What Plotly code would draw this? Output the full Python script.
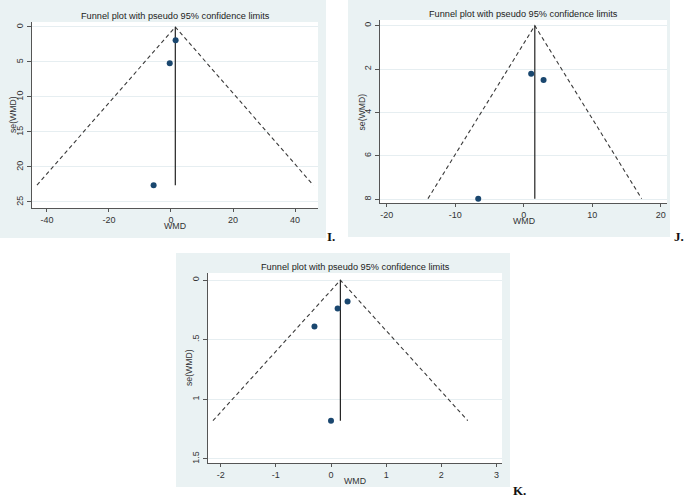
import plotly.graph_objects as go

W, H = 685, 498

# ---------------- data ----------------
# Panel I
wmd_I = [1.5, -0.4, -5.6]
se_I = [1.9, 5.2, 22.6]
pooled_I = 1.4
funnel_left_I = -43.2
funnel_right_I = 45.9
se_max_I = 22.6

# Panel J
wmd_J = [1.07, 2.88, -6.66]
se_J = [2.22, 2.50, 7.97]
pooled_J = 1.6
funnel_left_J = -14.0
funnel_right_J = 17.2
se_max_J = 7.97

# Panel K
wmd_K = [0.30, 0.12, -0.30, 0.0]
se_K = [0.18, 0.237, 0.39, 1.18]
pooled_K = 0.17
funnel_left_K = -2.14
funnel_right_K = 2.48
se_max_K = 1.18

xt_I = [-40, -20, 0, 20, 40]
yt_I = [0, 5, 10, 15, 20, 25]
xt_J = [-20, -10, 0, 10, 20]
yt_J = [0, 2, 4, 6, 8]
xt_K = [-2, -1, 0, 1, 2, 3]
yt_K = [0, 0.5, 1, 1.5]
yt_K_text = ["0", ".5", "1", "1.5"]

title_text = "Funnel plot with pseudo 95% confidence limits"

# ---------------- layout geometry (pixels) ----------------
panels = {
    "I": dict(plot=(32, 318, 22, 208), bg=(0, 326, 0, 238),
              xr=[-44.8, 47.4], yr=[25.86, -0.71], label_xy=(331, 236)),
    "J": dict(plot=(380, 667, 20, 203), bg=(348, 670, 0, 237),
              xr=[-21.0, 20.9], yr=[8.17, -0.26], label_xy=(679, 236)),
    "K": dict(plot=(208, 502, 273, 463), bg=(176, 510, 253, 487),
              xr=[-2.23, 3.1], yr=[1.535, -0.06], label_xy=(519, 490)),
}

FONT = "Liberation Sans, Arial, sans-serif"
NAVY = "#1a476f"
AXC = "#555555"
GRID = "#e6eef1"
BG = "#eaf2f3"

fig = go.Figure()

def px_x(v):
    return v / W

def px_y(v):
    return 1 - v / H

shapes = []
annotations = []

data = {
    "I": (wmd_I, se_I, pooled_I, funnel_left_I, funnel_right_I, se_max_I, xt_I, yt_I, [str(v) for v in yt_I]),
    "J": (wmd_J, se_J, pooled_J, funnel_left_J, funnel_right_J, se_max_J, xt_J, yt_J, [str(v) for v in yt_J]),
    "K": (wmd_K, se_K, pooled_K, funnel_left_K, funnel_right_K, se_max_K, xt_K, yt_K, yt_K_text),
}

for i, key in enumerate(["I", "J", "K"]):
    p = panels[key]
    wmd, se, pooled, fl, fr, smax, xt, yt, ytt = data[key]
    sfx = "" if i == 0 else str(i + 1)
    xa, ya = "x" + sfx, "y" + sfx
    px0, px1, py0, py1 = p["plot"]
    bx0, bx1, by0, by1 = p["bg"]

    shapes.append(dict(type="rect", xref="paper", yref="paper", layer="below",
                       x0=px_x(bx0), x1=px_x(bx1), y0=px_y(by1), y1=px_y(by0),
                       fillcolor=BG, line=dict(width=0)))
    shapes.append(dict(type="rect", xref="paper", yref="paper", layer="below",
                       x0=px_x(px0), x1=px_x(px1), y0=px_y(py1), y1=px_y(py0),
                       fillcolor="white", line=dict(width=0)))

    fig.add_trace(go.Scatter(x=[fl, pooled, fr], y=[smax, 0, smax], mode="lines",
                             line=dict(color="#3a3a3a", width=1.1, dash="4px,3px"),
                             xaxis=xa, yaxis=ya, hoverinfo="skip", showlegend=False))
    fig.add_trace(go.Scatter(x=[pooled, pooled], y=[0, smax], mode="lines",
                             line=dict(color="#222222", width=1.2),
                             xaxis=xa, yaxis=ya, hoverinfo="skip", showlegend=False))
    fig.add_trace(go.Scatter(x=wmd, y=se, mode="markers",
                             marker=dict(color=NAVY, size=6, line=dict(width=0)),
                             xaxis=xa, yaxis=ya, showlegend=False))

    fig.update_layout(**{
        "xaxis" + sfx: dict(domain=[px_x(px0), px_x(px1)], range=p["xr"], anchor=ya,
                            showgrid=False, zeroline=False, showline=True, linecolor=AXC,
                            linewidth=1, ticks="outside", ticklen=3, tickcolor=AXC,
                            tickvals=xt, ticktext=[str(v) for v in xt],
                            tickfont=dict(family=FONT, size=9, color="#333333")),
        "yaxis" + sfx: dict(domain=[px_y(py1), px_y(py0)], range=p["yr"], anchor=xa,
                            showgrid=True, gridcolor=GRID, gridwidth=1, zeroline=False,
                            showline=True, linecolor=AXC, linewidth=1, ticks="outside",
                            ticklen=4, tickcolor=AXC, tickvals=yt, ticktext=ytt,
                            tickangle=-90,
                            tickfont=dict(family=FONT, size=9, color="#333333")),
    })

    cx = (px0 + px1) / 2
    annotations.append(dict(xref="paper", yref="paper", x=px_x(cx), y=px_y(py0 - 6),
                            text=title_text, showarrow=False, xanchor="center", yanchor="middle",
                            font=dict(family=FONT, size=9.2, color="#222222")))
    annotations.append(dict(xref="paper", yref="paper", x=px_x(cx), y=px_y(py1 + 18),
                            text="WMD", showarrow=False, xanchor="center", yanchor="middle",
                            font=dict(family=FONT, size=8.8, color="#333333")))
    annotations.append(dict(xref="paper", yref="paper", x=px_x(bx0 + 13), y=px_y((py0 + py1) / 2),
                            text="se(WMD)", showarrow=False, textangle=-90,
                            xanchor="center", yanchor="middle",
                            font=dict(family=FONT, size=8.7, color="#333333")))
    lx, ly = p["label_xy"]
    annotations.append(dict(xref="paper", yref="paper", x=px_x(lx), y=px_y(ly),
                            text="<b>" + key + ".</b>", showarrow=False,
                            xanchor="center", yanchor="middle",
                            font=dict(family="Liberation Serif, Times New Roman, serif",
                                      size=13, color="#111111")))

fig.update_layout(width=W, height=H, margin=dict(l=0, r=0, t=0, b=0),
                  paper_bgcolor="white", plot_bgcolor="rgba(0,0,0,0)",
                  shapes=shapes, annotations=annotations, showlegend=False,
                  hovermode=False)

fig.write_html("out.html", config={"displayModeBar": False},
               post_script="document.body.style.margin='0px';")
